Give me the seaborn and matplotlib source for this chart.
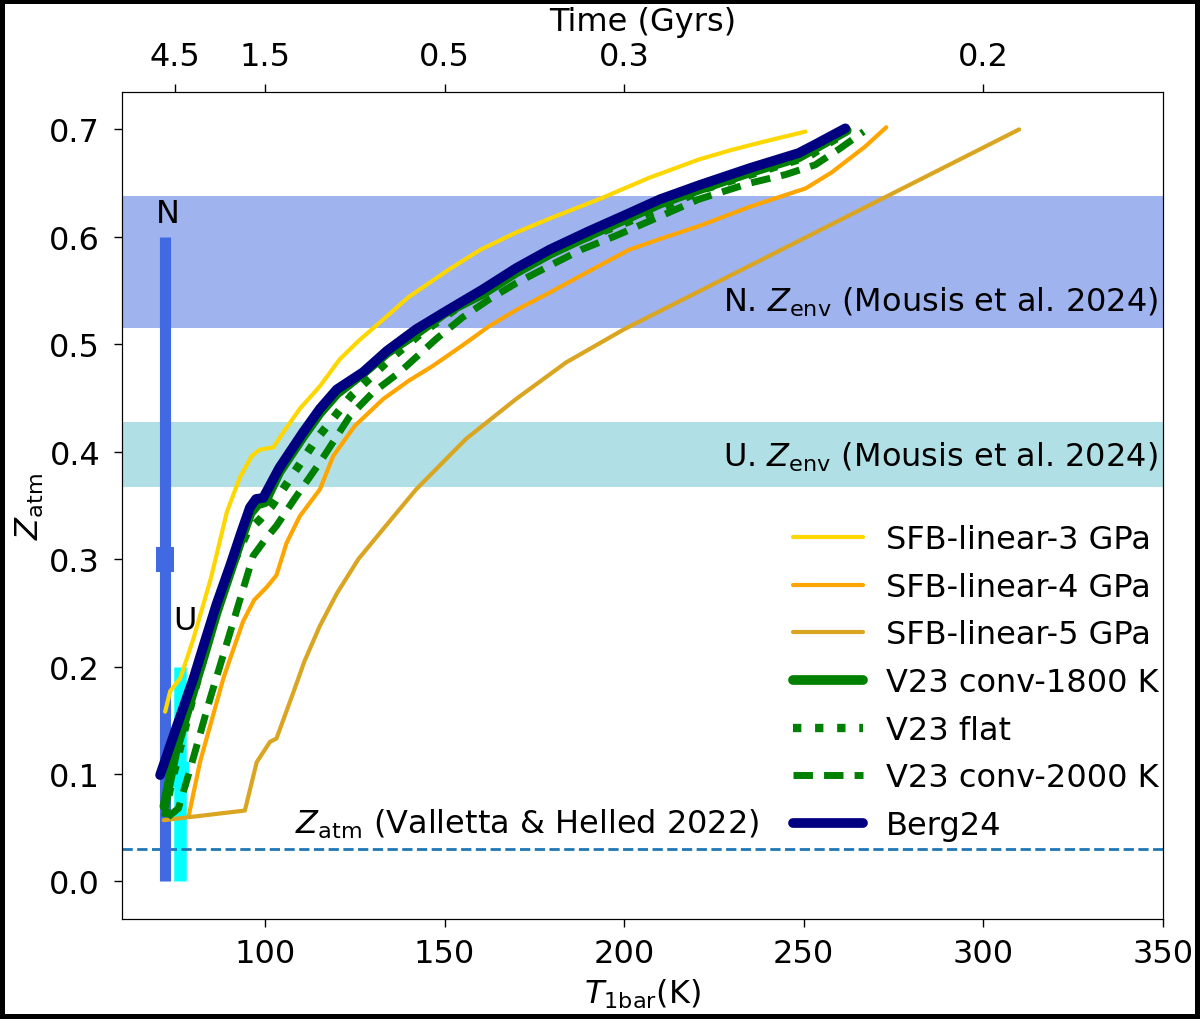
import numpy as np
import pandas as pd
import seaborn as sns
import matplotlib.pyplot as plt

# T_1bar (K) vs Z_atm
t_sfb3 = [72.2, 73.6, 76.4, 80, 85, 89.4, 93, 96.3, 98.6, 102.3, 105.5, 109.7, 115.3, 120.8,
          126, 132.9, 140, 151.4, 160, 169.9, 180, 193, 207, 220.8, 230, 239.4, 250.5]
z_sfb3 = [0.158, 0.177, 0.189, 0.225, 0.283, 0.344, 0.376, 0.396, 0.402, 0.404, 0.42, 0.440, 0.461, 0.486,
          0.503, 0.523, 0.544, 0.570, 0.588, 0.604, 0.618, 0.635, 0.655, 0.672, 0.681, 0.689, 0.698]

t_sfb4 = [78.7, 81.9, 88.5, 93.9, 97, 100.5, 103.2, 106, 109.7, 115.3, 119, 125, 132.9, 140, 146.8,
          155, 162.5, 170, 179.2, 193, 201.4, 210, 220.8, 235, 248.6, 250.5, 257.8, 267.1, 273]
z_sfb4 = [0.060, 0.111, 0.190, 0.242, 0.262, 0.274, 0.285, 0.315, 0.340, 0.365, 0.396, 0.424, 0.449, 0.466, 0.480,
          0.499, 0.517, 0.532, 0.548, 0.573, 0.588, 0.598, 0.610, 0.628, 0.643, 0.645, 0.660, 0.684, 0.702]

t_sfb5 = [71.8, 94.4, 97.7, 101.4, 103.2, 107.9, 111, 115.3, 120, 126, 132.9, 142.1, 156, 169.9, 183.8, 200, 310]
z_sfb5 = [0.057, 0.066, 0.111, 0.130, 0.133, 0.176, 0.205, 0.238, 0.268, 0.300, 0.328, 0.365, 0.412, 0.449,
          0.483, 0.514, 0.700]

t_conv1800 = [72.0, 75, 80.1, 83, 86.5, 90.3, 93.5, 96, 98, 100, 104, 110.6, 115.3, 120, 127.3, 134, 142.1,
              150, 160.6, 170, 179.2, 190, 201.4, 210, 220.8, 235, 248.6, 254, 262]
z_conv1800 = [0.070, 0.120, 0.178, 0.210, 0.250, 0.288, 0.320, 0.343, 0.351, 0.353, 0.381, 0.414, 0.436, 0.454,
              0.473, 0.492, 0.510, 0.529, 0.547, 0.567, 0.584, 0.601, 0.618, 0.631, 0.644, 0.660, 0.674, 0.684, 0.699]

t_flat = [72.2, 73.5, 76, 79, 83, 87, 91, 95, 98.6, 102, 106, 114.4, 124, 134.7, 143, 151.4, 160, 169.9,
          180, 188.4, 199.5, 210, 222.7, 237, 251.4, 257.8, 262]
z_flat = [0.060, 0.086, 0.120, 0.160, 0.210, 0.255, 0.295, 0.325, 0.337, 0.350, 0.370, 0.412, 0.452, 0.486,
          0.509, 0.529, 0.549, 0.568, 0.585, 0.598, 0.612, 0.626, 0.645, 0.660, 0.675, 0.689, 0.697]

t_conv2000 = [73, 75.9, 79.2, 84.7, 90.3, 96.7, 100, 103.2, 108, 115.3, 123.6, 130, 137.5, 147.7, 155,
              162.5, 170, 179.2, 188, 197.7, 210, 220.8, 235, 245, 253.2, 260, 266.7]
z_conv2000 = [0.060, 0.068, 0.105, 0.170, 0.232, 0.303, 0.318, 0.331, 0.355, 0.390, 0.433, 0.455, 0.474, 0.505,
              0.525, 0.542, 0.557, 0.573, 0.588, 0.601, 0.619, 0.635, 0.650, 0.658, 0.667, 0.682, 0.698]

t_berg = [70.8, 75, 80.1, 82.9, 86.5, 90.3, 93.5, 95.8, 97.5, 99.5, 104, 110.6, 115.3, 120, 127.3, 134,
          142.1, 150, 160.6, 170, 179.2, 190, 201.4, 210, 220.8, 235, 248.6, 253.2, 261.6]
z_berg = [0.099, 0.140, 0.189, 0.2195, 0.258, 0.294, 0.326, 0.348, 0.356, 0.357, 0.385, 0.418, 0.440, 0.458,
          0.474, 0.494, 0.514, 0.530, 0.551, 0.571, 0.588, 0.605, 0.622, 0.635, 0.648, 0.664, 0.678, 0.686, 0.701]

# observational constraints
n_band = (0.515, 0.638)
u_band = (0.367, 0.428)
z_vh22 = 0.03
n_T, n_z, n_err = 72.3, 0.3, 0.3
u_T, u_z, u_err = 76.4, 0.1, 0.1

time_ticks = [75, 100, 150, 200, 300]
time_labels = ['4.5', '1.5', '0.5', '0.3', '0.2']

sns.set_style('ticks', rc={'text.color': 'black', 'axes.labelcolor': 'black',
                           'xtick.color': 'black', 'ytick.color': 'black',
                           'axes.edgecolor': 'black'})
plt.rcParams['font.family'] = ['DejaVu Sans']
plt.rcParams['mathtext.fontset'] = 'dejavusans'
fs = 23

fig = plt.figure(figsize=(12, 10.2), dpi=100)
fig.patch.set_edgecolor('black')
fig.patch.set_linewidth(6)
ax = fig.add_axes([0.102, 0.098, 0.867, 0.811])

ax.axhspan(*n_band, color='royalblue', alpha=0.5, lw=0)
ax.axhspan(*u_band, color='powderblue', lw=0)
ax.axhline(z_vh22, color='tab:blue', ls='--', lw=2)

bar_marker = [(-0.35, -0.5), (0.35, -0.5), (0.35, 0.5), (-0.35, 0.5)]
ax.errorbar(n_T, n_z, yerr=n_err, color='royalblue', elinewidth=8, capsize=9, capthick=2,
            marker=bar_marker, ms=18, mew=0)
ax.errorbar(u_T, u_z, yerr=u_err, color='cyan', elinewidth=9, capsize=7, capthick=2,
            marker=bar_marker, ms=18, mew=0, zorder=1.9)

series = [
    (t_sfb3, z_sfb3, 'SFB-linear-3 GPa', 'gold', '-', 3),
    (t_sfb4, z_sfb4, 'SFB-linear-4 GPa', 'orange', '-', 3),
    (t_sfb5, z_sfb5, 'SFB-linear-5 GPa', 'goldenrod', '-', 3),
    (t_conv1800, z_conv1800, 'V23 conv-1800 K', 'green', '-', 7),
    (t_flat, z_flat, 'V23 flat', 'green', ':', 6),
    (t_conv2000, z_conv2000, 'V23 conv-2000 K', 'green', (0, (2.8, 1.6)), 5),
    (t_berg, z_berg, 'Berg24', 'navy', '-', 7),
]
for t, z, name, col, ls, lw in series:
    df = pd.DataFrame({'T': t, 'Z': z})
    sns.lineplot(data=df, x='T', y='Z', sort=False, estimator=None, color=col,
                 linestyle=ls, lw=lw, label=name, ax=ax)

ax.text(n_T + 0.7, 0.622, 'N', fontsize=fs, ha='center', va='center')
ax.text(u_T + 1.4, 0.243, 'U', fontsize=fs, ha='center', va='center')
ax.text(348.6, 0.54, r'N. $Z_{\rm env}$ (Mousis et al. 2024)', fontsize=fs, ha='right', va='center')
ax.text(348.6, 0.396, r'U. $Z_{\rm env}$ (Mousis et al. 2024)', fontsize=fs, ha='right', va='center')
ax.text(108.3, 0.054, r'$Z_{\rm atm}$ (Valletta & Helled 2022)', fontsize=fs, ha='left', va='center')

ax.set_xlim(60.3, 349.5)
ax.set_ylim(-0.035, 0.735)
ax.set_xticks([100, 150, 200, 250, 300, 350])
ax.set_yticks([0.0, 0.1, 0.2, 0.3, 0.4, 0.5, 0.6, 0.7])
ax.tick_params(labelsize=fs, length=6, width=1, pad=8)
ax.tick_params(axis='y', pad=10)
ax.set_xlabel(r'$T_{\rm 1bar}$(K)', fontsize=fs, labelpad=5)
ax.set_ylabel(r'$Z_{\rm atm}$', fontsize=fs, labelpad=2)
for s in ax.spines.values():
    s.set_visible(True)
    s.set_color('black')

ax.legend(loc='lower right', frameon=False, fontsize=fs, handlelength=2.2,
          handletextpad=0.7, labelspacing=0.52, borderaxespad=0.0, bbox_to_anchor=(1.008, 0.079))

ax2 = ax.twiny()
ax2.set_xlim(ax.get_xlim())
ax2.set_xticks(time_ticks)
ax2.set_xticklabels(time_labels)
ax2.tick_params(labelsize=fs, length=6, width=1, pad=8)
ax2.set_xlabel('Time (Gyrs)', fontsize=fs, labelpad=8)

fig.savefig('out.png', dpi=100, edgecolor=fig.get_edgecolor())
